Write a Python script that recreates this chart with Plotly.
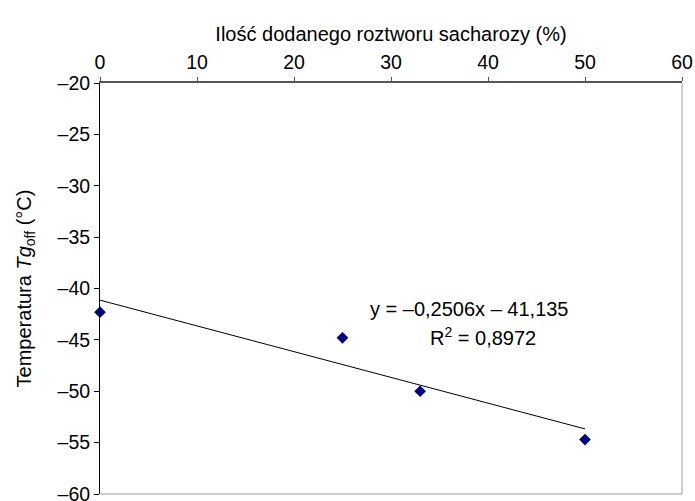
import plotly.graph_objects as go

# Data
sucrose_pct = [0, 25, 33, 50]
tg_off = [-42.3, -44.8, -50.0, -54.7]

trend_slope = -0.2506
trend_intercept = -41.135
trend_x = [0, 50]
trend_y = [trend_slope * x + trend_intercept for x in trend_x]

x_ticks = [0, 10, 20, 30, 40, 50, 60]
y_ticks = [-20, -25, -30, -35, -40, -45, -50, -55, -60]
y_ticktext = ["–" + str(abs(v)) for v in y_ticks]

eq_text = "y = –0,2506x – 41,135"
r2_text = "R<sup>2</sup> = 0,8972"

FONT = "Liberation Sans, Arial, sans-serif"

fig = go.Figure()
fig.add_trace(go.Scatter(x=trend_x, y=trend_y, mode="lines",
                         line=dict(color="black", width=1), showlegend=False,
                         hoverinfo="skip"))
fig.add_trace(go.Scatter(x=sucrose_pct, y=tg_off, mode="markers",
                         marker=dict(symbol="diamond", size=9, color="#000080"),
                         showlegend=False, cliponaxis=False))

fig.update_layout(
    width=695, height=501,
    margin=dict(l=100, r=13, t=83, b=7),
    paper_bgcolor="white", plot_bgcolor="white",
    font=dict(family=FONT, size=20, color="black"),
    xaxis=dict(side="top", range=[0, 60], tickvals=x_ticks,
               ticks="outside", ticklen=4, tickcolor="#555555",
               showline=True, linecolor="#555555", linewidth=2,
               showgrid=False, zeroline=False, ticklabeloverflow="allow",
               automargin=False,
               tickfont=dict(size=19.5),
               title=dict(text="Ilość dodanego roztworu sacharozy (%)",
                          font=dict(size=20), standoff=4)),
    yaxis=dict(range=[-60, -20], tickvals=y_ticks, ticktext=y_ticktext,
               ticks="outside", ticklen=5, tickcolor="black",
               showline=True, linecolor="black", linewidth=1,
               showgrid=False, zeroline=False, ticklabeloverflow="allow",
               automargin=False,
               tickfont=dict(size=19.5),
               title=dict(text="Temperatura <i>Tg</i><sub>off</sub> (°C)",
                          font=dict(size=20), standoff=20)),
    shapes=[
        dict(type="line", xref="paper", yref="paper", x0=1, x1=1, y0=0, y1=1,
             line=dict(color="#a0a0a0", width=1)),
        dict(type="line", xref="paper", yref="paper", x0=0, x1=1, y0=0, y1=0,
             line=dict(color="#a0a0a0", width=1)),
    ],
    annotations=[
        dict(x=38.1, y=-42.0, xref="x", yref="y", text=eq_text, showarrow=False,
             font=dict(size=20)),
        dict(x=39.5, y=-44.64, xref="x", yref="y", text=r2_text, showarrow=False,
             font=dict(size=20)),
    ],
)

fig.write_html("out.html", config={"displayModeBar": False},
               post_script="document.body.style.margin='0';")
